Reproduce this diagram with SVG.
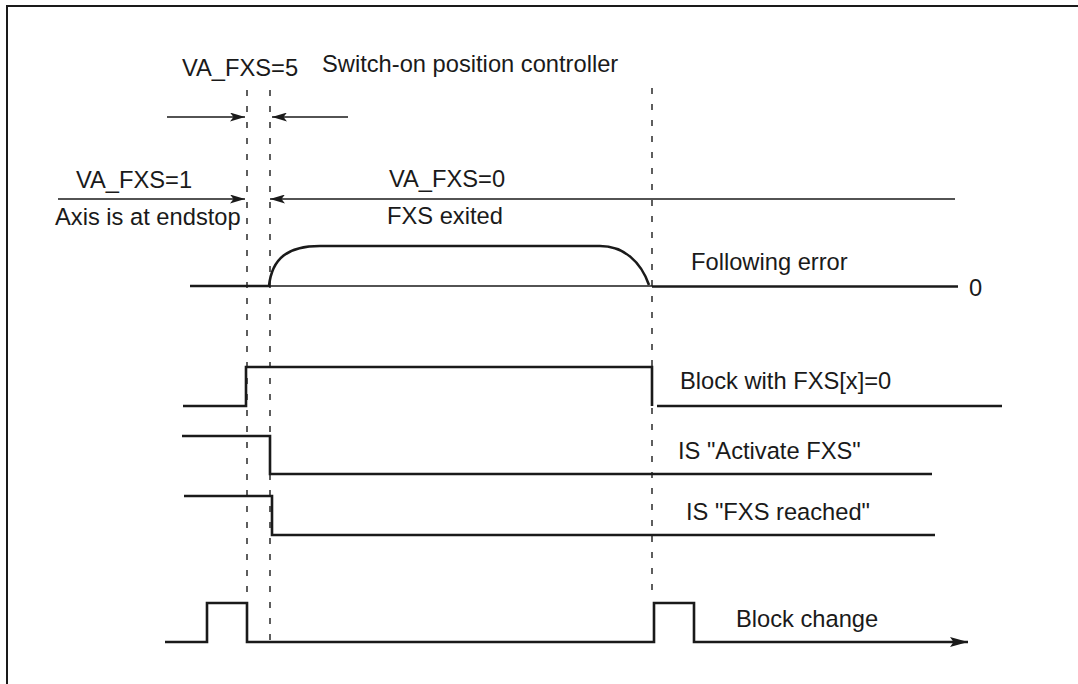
<svg xmlns="http://www.w3.org/2000/svg" width="1078" height="684" viewBox="0 0 1078 684">
<style>
text{font-family:"Liberation Sans",Arial,sans-serif;font-size:23.7px;fill:#1a1a1a}
.sig{fill:none;stroke:#1a1a1a;stroke-width:2.6;stroke-linejoin:miter}
.thin{fill:none;stroke:#1a1a1a;stroke-width:1.3}
.dash{fill:none;stroke:#1a1a1a;stroke-width:1.4;stroke-dasharray:6 10}
.dim{fill:none;stroke:#1a1a1a;stroke-width:1.5}
</style>
<defs>
<marker id="ah" viewBox="0 0 15 9" refX="15" refY="4.5" markerWidth="15" markerHeight="9" orient="auto" markerUnits="userSpaceOnUse"><path d="M0,0 L15,4.5 L0,9 L3.5,4.5 Z" fill="#1a1a1a"/></marker>
<marker id="ahb" viewBox="0 0 18 10" refX="18" refY="5" markerWidth="18" markerHeight="10" orient="auto" markerUnits="userSpaceOnUse"><path d="M0,0 L18,5 L0,10 L3.5,5 Z" fill="#1a1a1a"/></marker>
</defs>
<rect width="1078" height="684" fill="#fff"/>
<g id="frame"><path d="M7,684 L7,6 L1078,6" fill="none" stroke="#1a1a1a" stroke-width="2"/></g>
<g id="connectors">
<line class="dash" x1="247" y1="90" x2="247" y2="642"/>
<line class="dash" x1="270" y1="90" x2="270" y2="642"/>
<line class="dash" x1="652" y1="88" x2="652" y2="598"/>
<line class="dim" x1="167" y1="117" x2="245" y2="117" marker-end="url(#ah)"/>
<line class="dim" x1="348" y1="117" x2="272" y2="117" marker-end="url(#ah)"/>
<line class="dim" x1="58" y1="199" x2="245" y2="199" marker-end="url(#ah)"/>
<line class="dim" x1="955" y1="199" x2="270" y2="199" marker-end="url(#ah)"/>
</g>
<g id="labels-top">
<text x="182" y="76">VA_FXS=5</text>
<text x="322" y="72">Switch-on position controller</text>
<text x="76" y="188">VA_FXS=1</text>
<text x="55" y="225">Axis is at endstop</text>
<text x="389" y="187">VA_FXS=0</text>
<text x="387" y="224">FXS exited</text>
</g>
<g id="following-error">
<line class="thin" x1="269" y1="286" x2="652" y2="286"/>
<path class="sig" d="M190,286 L269,286 C272,258 288,246 320,246 L600,246 C624,246 641,262 649,285"/>
<line class="sig" x1="652" y1="286.5" x2="958" y2="286.5"/>
<text x="691" y="270">Following error</text>
<text x="969" y="296">0</text>
</g>
<g id="block-fxs">
<path class="sig" d="M183,406 L246,406 L246,367 L652,367 L652,406"/>
<line class="sig" x1="657" y1="406" x2="1002" y2="406"/>
<text x="680" y="389">Block with FXS[x]=0</text>
</g>
<g id="is-activate">
<path class="sig" d="M182,436 L270,436 L270,474 L932,474"/>
<text x="678" y="459">IS "Activate FXS"</text>
</g>
<g id="is-reached">
<path class="sig" d="M184,496 L272,496 L272,535 L935,535"/>
<text x="686" y="520">IS "FXS reached"</text>
</g>
<g id="block-change">
<path class="sig" d="M165,642 L207,642 L207,603 L247,603 L247,642 L654,642 L654,603 L694,603 L694,642 L968,642" marker-end="url(#ahb)"/>
<text x="736" y="627">Block change</text>
</g>
</svg>
